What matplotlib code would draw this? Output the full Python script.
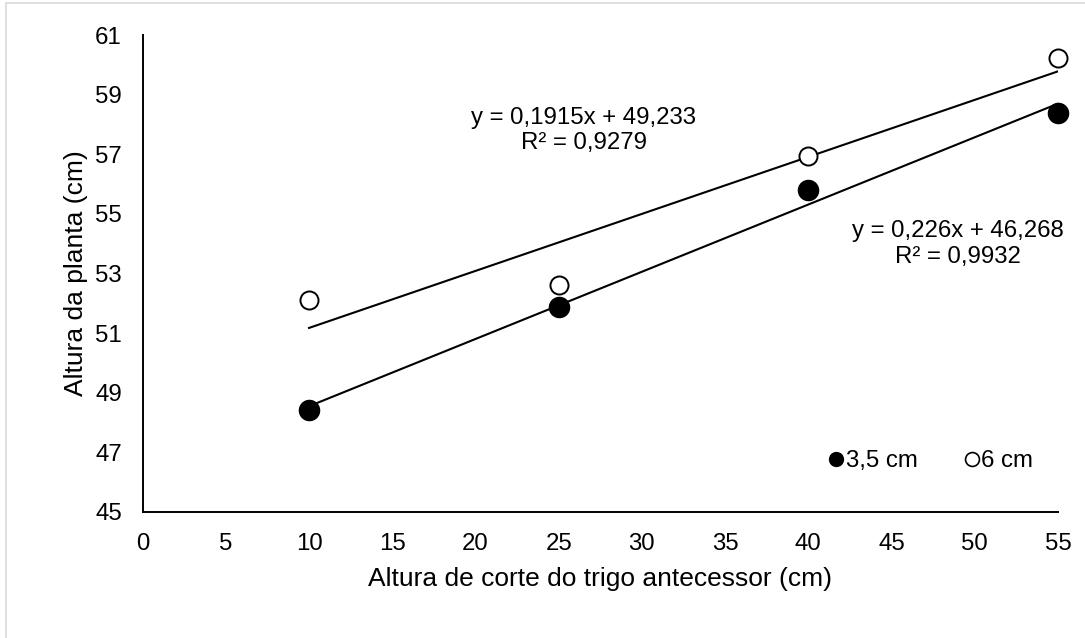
import matplotlib
matplotlib.use("Agg")
import matplotlib.pyplot as plt
from matplotlib.patches import Rectangle
from matplotlib.lines import Line2D
import numpy as np

plt.rcParams["font.family"] = ["Liberation Sans", "DejaVu Sans"]

# dados
altura_corte = [10, 25, 40, 55]
planta_35cm = [48.42, 51.88, 55.80, 58.39]
planta_6cm = [52.11, 52.62, 56.95, 60.23]
eq_35cm = "y = 0,226x + 46,268\nR² = 0,9932"
eq_6cm = "y = 0,1915x + 49,233\nR² = 0,9279"
x_ticks = list(range(0, 60, 5))
y_ticks = list(range(45, 62, 2))

FS = 17.3      # rótulos, equações, legenda
FS_TIT = 19    # títulos dos eixos

fig = plt.figure(figsize=(10.85, 6.38), dpi=100)
# moldura cinza clara (recortada)
fig.patches.append(Rectangle((6 / 1085, -1), 2, 2 - 3 / 638, transform=fig.transFigure,
                             fill=False, edgecolor="#d9d9d9", linewidth=1.2))

ax = fig.add_axes([142.6 / 1085, 126 / 638, 915.4 / 1085, 477 / 638])
ax.set_xlim(0, 55)
ax.set_ylim(45, 61)
ax.set_xticks(x_ticks)
ax.set_yticks(y_ticks)
ax.tick_params(length=0, pad=15, labelsize=FS)
for s in ("top", "right"):
    ax.spines[s].set_visible(False)
for s in ("left", "bottom"):
    ax.spines[s].set_linewidth(1.4)

# linhas de tendência (ajuste linear)
x = np.array(altura_corte, dtype=float)
for serie in (planta_35cm, planta_6cm):
    a, b = np.polyfit(x, serie, 1)
    ax.plot([x[0], x[-1]], [a * x[0] + b, a * x[-1] + b], color="black", lw=1.5, zorder=2)

ax.plot(altura_corte, planta_35cm, "o", ms=14.5, color="black", zorder=3, clip_on=False)
ax.plot(altura_corte, planta_6cm, "o", ms=13, mfc="white", mec="black", mew=1.4, zorder=3,
        clip_on=False)

ax.text(26.5, 57.79, eq_6cm, ha="center", va="center", fontsize=FS, linespacing=1.2)
ax.text(49.0, 53.99, eq_35cm, ha="center", va="center", fontsize=FS, linespacing=1.2)

ax.set_xlabel("Altura de corte do trigo antecessor (cm)", fontsize=FS_TIT, labelpad=9)
ax.set_ylabel("Altura da planta (cm)", fontsize=FS_TIT, labelpad=5)

handles = [
    Line2D([], [], ls="none", marker="o", ms=10, color="black"),
    Line2D([], [], ls="none", marker="o", ms=10, mfc="white", mec="black", mew=1.2),
]
ax.legend(handles, ["3,5 cm", "6 cm"], loc="center", bbox_to_anchor=(0.862, 0.107),
          ncol=2, frameon=False, fontsize=FS, handlelength=0.5, handletextpad=0.15,
          columnspacing=2.0)

fig.savefig("out.png", dpi=100)
